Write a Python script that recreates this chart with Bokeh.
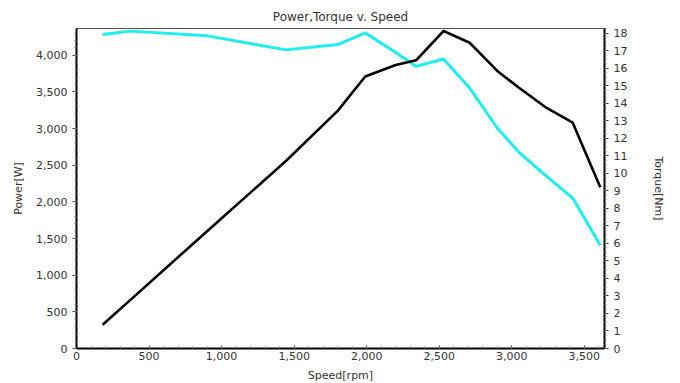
from bokeh.plotting import figure
from bokeh.models import LinearAxis, Range1d, NumeralTickFormatter, FixedTicker
from bokeh.embed import file_html
from bokeh.resources import INLINE

speed_rpm = [180, 370, 900, 1445, 1800, 1990, 2200, 2340, 2530, 2710, 2900, 3050, 3240, 3420, 3610]
power_w = [325, 660, 1600, 2560, 3240, 3710, 3865, 3930, 4330, 4170, 3785, 3555, 3280, 3080, 2200]
torque_nm = [17.93, 18.12, 17.85, 17.05, 17.35, 18.02, 16.9, 16.11, 16.53, 14.87, 12.59, 11.2, 9.83, 8.59, 5.89]

power_ticks = [0, 500, 1000, 1500, 2000, 2500, 3000, 3500, 4000]
speed_ticks = [0, 500, 1000, 1500, 2000, 2500, 3000, 3500]
torque_ticks = list(range(0, 19))

FONT = "DejaVu Sans"

p = figure(frame_width=528, frame_height=320, output_backend="svg", toolbar_location=None,
           x_range=Range1d(0, 3639), y_range=Range1d(0, 4364),
           title="Power,Torque v. Speed",
           min_border_left=76, min_border_right=60, min_border_top=28, min_border_bottom=20)
p.extra_y_ranges = {"torque": Range1d(0, 18.27)}

p.title.align = "center"
p.title.text_font = FONT
p.title.text_font_size = "12px"
p.title.text_font_style = "normal"
p.title.text_color = "#333333"
p.title.standoff = 10
p.title.offset = 0

p.grid.visible = False
p.outline_line_color = "#555555"
p.outline_line_width = 1
p.background_fill_color = "white"
p.border_fill_color = "white"

def style_axis(ax):
    ax.axis_line_color = "black"
    ax.axis_line_width = 2
    ax.major_tick_line_color = "#333333"
    ax.minor_tick_line_color = "#777777"
    ax.major_tick_out = 4
    ax.major_tick_in = 0
    ax.minor_tick_out = 2
    ax.minor_tick_in = 0
    ax.major_label_text_font = FONT
    ax.major_label_text_font_size = "11px"
    ax.major_label_text_color = "#333333"
    ax.axis_label_text_font = FONT
    ax.axis_label_text_font_size = "11px"
    ax.axis_label_text_font_style = "normal"
    ax.axis_label_text_color = "#333333"

xa = p.xaxis[0]
style_axis(xa)
xa.ticker = FixedTicker(ticks=speed_ticks, minor_ticks=list(range(0, 3700, 100)))
xa.formatter = NumeralTickFormatter(format="0,0")
xa.axis_label = "Speed[rpm]"
xa.major_tick_out = 0
xa.major_tick_in = 3
xa.minor_tick_out = 0
xa.minor_tick_in = 2
xa.axis_label_standoff = 6
xa.major_label_standoff = 3

ya = p.yaxis[0]
style_axis(ya)
ya.ticker = FixedTicker(ticks=power_ticks, minor_ticks=list(range(0, 4400, 100)))
ya.formatter = NumeralTickFormatter(format="0,0")
ya.axis_label = "Power[W]"
ya.axis_label_standoff = 8

ra = LinearAxis(y_range_name="torque")
style_axis(ra)
ra.ticker = FixedTicker(ticks=torque_ticks, minor_ticks=[i * 0.25 for i in range(0, 74)])
ra.axis_label = "Torque[Nm]"
ra.axis_label_standoff = 22
p.add_layout(ra, "right")

p.line(speed_rpm, torque_nm, y_range_name="torque", line_color="#1EEEEE", line_width=3)
p.line(speed_rpm, power_w, line_color="black", line_width=2.6)

open("out.html", "w").write(file_html(p, INLINE))
